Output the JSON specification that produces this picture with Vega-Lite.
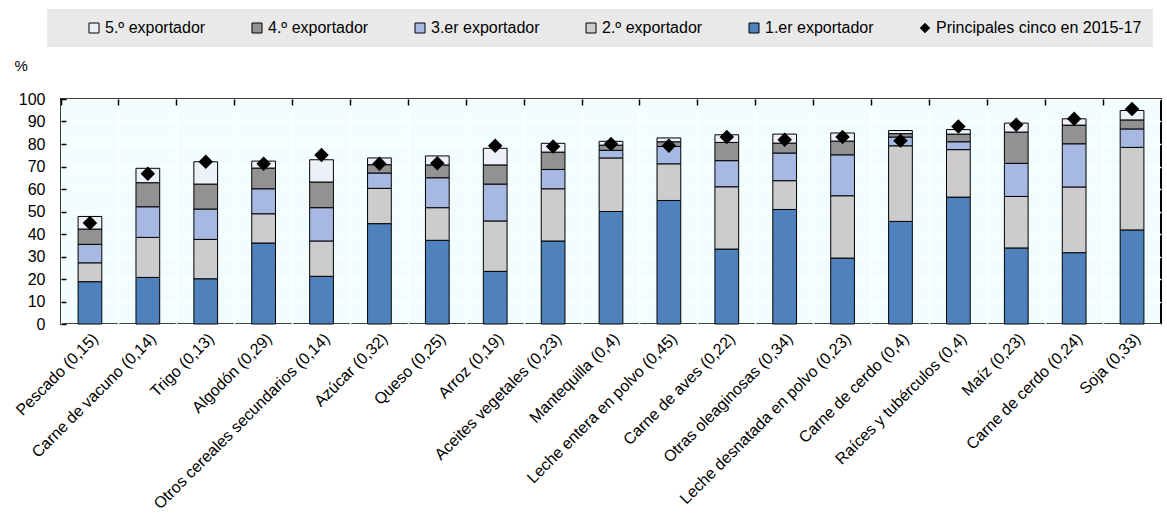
{
  "$schema": "https://vega.github.io/schema/vega-lite/v6.json",
  "width": 1100,
  "height": 225,
  "autosize": {"type": "none"},
  "padding": {"left": 61, "top": 99, "right": 6, "bottom": 189},
  "background": "white",
  "config": {
    "font": "Liberation Sans",
    "view": {"fill": "#F2FEFE", "stroke": "black", "strokeWidth": 2},
    "axis": {"labelColor": "black", "titleColor": "black", "labelFont": "Liberation Sans", "titleFont": "Liberation Sans"}
  },
  "datasets": {
    "seg": [
      {"p": "Pescado (0,15)", "s": "1.er exportador", "r": 1, "v": 18.8},
      {"p": "Pescado (0,15)", "s": "2.º exportador", "r": 2, "v": 8.4},
      {"p": "Pescado (0,15)", "s": "3.er exportador", "r": 3, "v": 8.2},
      {"p": "Pescado (0,15)", "s": "4.º exportador", "r": 4, "v": 6.8},
      {"p": "Pescado (0,15)", "s": "5.º exportador", "r": 5, "v": 5.6},
      {"p": "Carne de vacuno (0,14)", "s": "1.er exportador", "r": 1, "v": 20.7},
      {"p": "Carne de vacuno (0,14)", "s": "2.º exportador", "r": 2, "v": 17.8},
      {"p": "Carne de vacuno (0,14)", "s": "3.er exportador", "r": 3, "v": 13.6},
      {"p": "Carne de vacuno (0,14)", "s": "4.º exportador", "r": 4, "v": 10.7},
      {"p": "Carne de vacuno (0,14)", "s": "5.º exportador", "r": 5, "v": 6.4},
      {"p": "Trigo (0,13)", "s": "1.er exportador", "r": 1, "v": 20.1},
      {"p": "Trigo (0,13)", "s": "2.º exportador", "r": 2, "v": 17.5},
      {"p": "Trigo (0,13)", "s": "3.er exportador", "r": 3, "v": 13.5},
      {"p": "Trigo (0,13)", "s": "4.º exportador", "r": 4, "v": 11.1},
      {"p": "Trigo (0,13)", "s": "5.º exportador", "r": 5, "v": 9.9},
      {"p": "Algodón (0,29)", "s": "1.er exportador", "r": 1, "v": 36.0},
      {"p": "Algodón (0,29)", "s": "2.º exportador", "r": 2, "v": 13.0},
      {"p": "Algodón (0,29)", "s": "3.er exportador", "r": 3, "v": 11.1},
      {"p": "Algodón (0,29)", "s": "4.º exportador", "r": 4, "v": 9.2},
      {"p": "Algodón (0,29)", "s": "5.º exportador", "r": 5, "v": 3.1},
      {"p": "Otros cereales secundarios (0,14)", "s": "1.er exportador", "r": 1, "v": 21.2},
      {"p": "Otros cereales secundarios (0,14)", "s": "2.º exportador", "r": 2, "v": 15.7},
      {"p": "Otros cereales secundarios (0,14)", "s": "3.er exportador", "r": 3, "v": 14.8},
      {"p": "Otros cereales secundarios (0,14)", "s": "4.º exportador", "r": 4, "v": 11.4},
      {"p": "Otros cereales secundarios (0,14)", "s": "5.º exportador", "r": 5, "v": 9.9},
      {"p": "Azúcar (0,32)", "s": "1.er exportador", "r": 1, "v": 44.6},
      {"p": "Azúcar (0,32)", "s": "2.º exportador", "r": 2, "v": 15.7},
      {"p": "Azúcar (0,32)", "s": "3.er exportador", "r": 3, "v": 6.8},
      {"p": "Azúcar (0,32)", "s": "4.º exportador", "r": 4, "v": 3.7},
      {"p": "Azúcar (0,32)", "s": "5.º exportador", "r": 5, "v": 3.0},
      {"p": "Queso (0,25)", "s": "1.er exportador", "r": 1, "v": 37.2},
      {"p": "Queso (0,25)", "s": "2.º exportador", "r": 2, "v": 14.5},
      {"p": "Queso (0,25)", "s": "3.er exportador", "r": 3, "v": 13.3},
      {"p": "Queso (0,25)", "s": "4.º exportador", "r": 4, "v": 5.7},
      {"p": "Queso (0,25)", "s": "5.º exportador", "r": 5, "v": 4.0},
      {"p": "Arroz (0,19)", "s": "1.er exportador", "r": 1, "v": 23.4},
      {"p": "Arroz (0,19)", "s": "2.º exportador", "r": 2, "v": 22.4},
      {"p": "Arroz (0,19)", "s": "3.er exportador", "r": 3, "v": 16.4},
      {"p": "Arroz (0,19)", "s": "4.º exportador", "r": 4, "v": 8.5},
      {"p": "Arroz (0,19)", "s": "5.º exportador", "r": 5, "v": 7.4},
      {"p": "Aceites vegetales (0,23)", "s": "1.er exportador", "r": 1, "v": 36.9},
      {"p": "Aceites vegetales (0,23)", "s": "2.º exportador", "r": 2, "v": 23.2},
      {"p": "Aceites vegetales (0,23)", "s": "3.er exportador", "r": 3, "v": 8.6},
      {"p": "Aceites vegetales (0,23)", "s": "4.º exportador", "r": 4, "v": 7.7},
      {"p": "Aceites vegetales (0,23)", "s": "5.º exportador", "r": 5, "v": 3.9},
      {"p": "Mantequilla (0,4)", "s": "1.er exportador", "r": 1, "v": 50.0},
      {"p": "Mantequilla (0,4)", "s": "2.º exportador", "r": 2, "v": 23.8},
      {"p": "Mantequilla (0,4)", "s": "3.er exportador", "r": 3, "v": 3.4},
      {"p": "Mantequilla (0,4)", "s": "4.º exportador", "r": 4, "v": 2.3},
      {"p": "Mantequilla (0,4)", "s": "5.º exportador", "r": 5, "v": 1.7},
      {"p": "Leche entera en polvo (0,45)", "s": "1.er exportador", "r": 1, "v": 54.9},
      {"p": "Leche entera en polvo (0,45)", "s": "2.º exportador", "r": 2, "v": 16.3},
      {"p": "Leche entera en polvo (0,45)", "s": "3.er exportador", "r": 3, "v": 7.7},
      {"p": "Leche entera en polvo (0,45)", "s": "4.º exportador", "r": 4, "v": 2.1},
      {"p": "Leche entera en polvo (0,45)", "s": "5.º exportador", "r": 5, "v": 1.7},
      {"p": "Carne de aves (0,22)", "s": "1.er exportador", "r": 1, "v": 33.3},
      {"p": "Carne de aves (0,22)", "s": "2.º exportador", "r": 2, "v": 27.7},
      {"p": "Carne de aves (0,22)", "s": "3.er exportador", "r": 3, "v": 11.6},
      {"p": "Carne de aves (0,22)", "s": "4.º exportador", "r": 4, "v": 8.1},
      {"p": "Carne de aves (0,22)", "s": "5.º exportador", "r": 5, "v": 3.4},
      {"p": "Otras oleaginosas (0,34)", "s": "1.er exportador", "r": 1, "v": 50.9},
      {"p": "Otras oleaginosas (0,34)", "s": "2.º exportador", "r": 2, "v": 12.8},
      {"p": "Otras oleaginosas (0,34)", "s": "3.er exportador", "r": 3, "v": 12.3},
      {"p": "Otras oleaginosas (0,34)", "s": "4.º exportador", "r": 4, "v": 4.4},
      {"p": "Otras oleaginosas (0,34)", "s": "5.º exportador", "r": 5, "v": 4.0},
      {"p": "Leche desnatada en polvo (0,23)", "s": "1.er exportador", "r": 1, "v": 29.3},
      {"p": "Leche desnatada en polvo (0,23)", "s": "2.º exportador", "r": 2, "v": 27.7},
      {"p": "Leche desnatada en polvo (0,23)", "s": "3.er exportador", "r": 3, "v": 18.2},
      {"p": "Leche desnatada en polvo (0,23)", "s": "4.º exportador", "r": 4, "v": 6.1},
      {"p": "Leche desnatada en polvo (0,23)", "s": "5.º exportador", "r": 5, "v": 3.6},
      {"p": "Carne de cerdo (0,4)", "s": "1.er exportador", "r": 1, "v": 45.6},
      {"p": "Carne de cerdo (0,4)", "s": "2.º exportador", "r": 2, "v": 33.6},
      {"p": "Carne de cerdo (0,4)", "s": "3.er exportador", "r": 3, "v": 3.9},
      {"p": "Carne de cerdo (0,4)", "s": "4.º exportador", "r": 4, "v": 1.5},
      {"p": "Carne de cerdo (0,4)", "s": "5.º exportador", "r": 5, "v": 1.4},
      {"p": "Raíces y tubérculos (0,4)", "s": "1.er exportador", "r": 1, "v": 56.4},
      {"p": "Raíces y tubérculos (0,4)", "s": "2.º exportador", "r": 2, "v": 21.1},
      {"p": "Raíces y tubérculos (0,4)", "s": "3.er exportador", "r": 3, "v": 3.5},
      {"p": "Raíces y tubérculos (0,4)", "s": "4.º exportador", "r": 4, "v": 3.4},
      {"p": "Raíces y tubérculos (0,4)", "s": "5.º exportador", "r": 5, "v": 2.0},
      {"p": "Maíz (0,23)", "s": "1.er exportador", "r": 1, "v": 33.8},
      {"p": "Maíz (0,23)", "s": "2.º exportador", "r": 2, "v": 22.9},
      {"p": "Maíz (0,23)", "s": "3.er exportador", "r": 3, "v": 14.7},
      {"p": "Maíz (0,23)", "s": "4.º exportador", "r": 4, "v": 13.9},
      {"p": "Maíz (0,23)", "s": "5.º exportador", "r": 5, "v": 4.0},
      {"p": "Carne de cerdo (0,24)", "s": "1.er exportador", "r": 1, "v": 31.7},
      {"p": "Carne de cerdo (0,24)", "s": "2.º exportador", "r": 2, "v": 29.2},
      {"p": "Carne de cerdo (0,24)", "s": "3.er exportador", "r": 3, "v": 19.2},
      {"p": "Carne de cerdo (0,24)", "s": "4.º exportador", "r": 4, "v": 8.3},
      {"p": "Carne de cerdo (0,24)", "s": "5.º exportador", "r": 5, "v": 2.8},
      {"p": "Soja (0,33)", "s": "1.er exportador", "r": 1, "v": 41.8},
      {"p": "Soja (0,33)", "s": "2.º exportador", "r": 2, "v": 36.7},
      {"p": "Soja (0,33)", "s": "3.er exportador", "r": 3, "v": 8.2},
      {"p": "Soja (0,33)", "s": "4.º exportador", "r": 4, "v": 4.0},
      {"p": "Soja (0,33)", "s": "5.º exportador", "r": 5, "v": 4.2}
    ],
    "top": [
      {"p": "Pescado (0,15)", "v": 44.9},
      {"p": "Carne de vacuno (0,14)", "v": 66.8},
      {"p": "Trigo (0,13)", "v": 72.1},
      {"p": "Algodón (0,29)", "v": 71.2},
      {"p": "Otros cereales secundarios (0,14)", "v": 75.1},
      {"p": "Azúcar (0,32)", "v": 71.2},
      {"p": "Queso (0,25)", "v": 71.4},
      {"p": "Arroz (0,19)", "v": 79.2},
      {"p": "Aceites vegetales (0,23)", "v": 78.9},
      {"p": "Mantequilla (0,4)", "v": 80.0},
      {"p": "Leche entera en polvo (0,45)", "v": 79.2},
      {"p": "Carne de aves (0,22)", "v": 83.1},
      {"p": "Otras oleaginosas (0,34)", "v": 81.9},
      {"p": "Leche desnatada en polvo (0,23)", "v": 83.1},
      {"p": "Carne de cerdo (0,4)", "v": 81.5},
      {"p": "Raíces y tubérculos (0,4)", "v": 87.8},
      {"p": "Maíz (0,23)", "v": 88.6},
      {"p": "Carne de cerdo (0,24)", "v": 91.2},
      {"p": "Soja (0,33)", "v": 95.6}
    ]
  },
  "layer": [
    {
      "data": {"name": "seg"},
      "mark": {"type": "bar", "width": {"band": 0.41}, "stroke": "black", "strokeWidth": 1},
      "encoding": {
        "x": {
          "field": "p", "type": "nominal",
          "scale": {
            "domain": ["Pescado (0,15)", "Carne de vacuno (0,14)", "Trigo (0,13)", "Algodón (0,29)", "Otros cereales secundarios (0,14)", "Azúcar (0,32)", "Queso (0,25)", "Arroz (0,19)", "Aceites vegetales (0,23)", "Mantequilla (0,4)", "Leche entera en polvo (0,45)", "Carne de aves (0,22)", "Otras oleaginosas (0,34)", "Leche desnatada en polvo (0,23)", "Carne de cerdo (0,4)", "Raíces y tubérculos (0,4)", "Maíz (0,23)", "Carne de cerdo (0,24)", "Soja (0,33)"],
            "paddingInner": 0, "paddingOuter": 0
          },
          "axis": {"title": null, "labelAngle": -45, "labelFontSize": 16, "labelLimit": 500, "labelOverlap": false, "ticks": false, "grid": false, "domain": false, "labelPadding": 6}
        },
        "y": {
          "field": "v", "type": "quantitative", "stack": "zero",
          "scale": {"domain": [0, 100], "nice": false},
          "axis": {
            "values": [0, 10, 20, 30, 40, 50, 60, 70, 80, 90, 100], "tickCount": 20,
            "title": "%", "titleAngle": 0, "titleFontSize": 15, "titleFontWeight": "normal",
            "titleX": -47, "titleY": -34, "titleAlign": "left", "titleBaseline": "middle",
            "labelFontSize": 16, "labelPadding": 21, "labelOverlap": false, "labelFlush": false,
            "tickSize": -5, "tickColor": "black", "tickWidth": 1.5,
            "domain": false, "grid": true, "gridColor": "white", "gridWidth": 1.5
          }
        },
        "color": {
          "field": "s", "type": "nominal",
          "scale": {
            "domain": ["5.º exportador", "4.º exportador", "3.er exportador", "2.º exportador", "1.er exportador", "Principales cinco en 2015-17"],
            "range": ["#EEF0F8", "#929292", "#A7B9E3", "#CCCCCC", "#4F81BD", "#000000"]
          },
          "legend": {
            "orient": "none", "legendX": -14, "legendY": -90,
            "direction": "horizontal", "columns": 6,
            "title": " ", "titleOrient": "left", "titlePadding": 28,
            "fillColor": "#E9E9E9", "padding": 11, "columnPadding": 43,
            "labelFontSize": 16, "labelFont": "Liberation Sans", "labelColor": "black", "labelOffset": 3, "labelLimit": 400,
            "symbolType": "square", "symbolSize": 100, "symbolStrokeColor": "black", "symbolStrokeWidth": 1, "symbolOpacity": 1,
            "encode": {
              "symbols": {
                "update": {
                  "shape": {"signal": "datum.value === 'Principales cinco en 2015-17' ? 'diamond' : 'square'"},
                  "size": {"signal": "datum.value === 'Principales cinco en 2015-17' ? 90 : 100"},
                  "stroke": {"value": "black"},
                  "strokeWidth": {"value": 1}
                }
              }
            }
          }
        },
        "order": {"field": "r", "type": "quantitative", "sort": "ascending"}
      }
    },
    {
      "data": {"name": "top"},
      "mark": {"type": "point", "shape": "diamond", "filled": true, "size": 210, "opacity": 1},
      "encoding": {
        "x": {
          "field": "p", "type": "nominal",
          "axis": {"title": null, "labels": false, "ticks": true, "tickSize": -6, "tickColor": "black", "tickWidth": 1.5, "bandPosition": 0, "grid": true, "gridColor": "white", "gridWidth": 1.5, "domain": false}
        },
        "y": {"field": "v", "type": "quantitative", "axis": null},
        "color": {"datum": "Principales cinco en 2015-17"}
      }
    }
  ],
  "resolve": {"axis": {"x": "independent", "y": "independent"}}
}
